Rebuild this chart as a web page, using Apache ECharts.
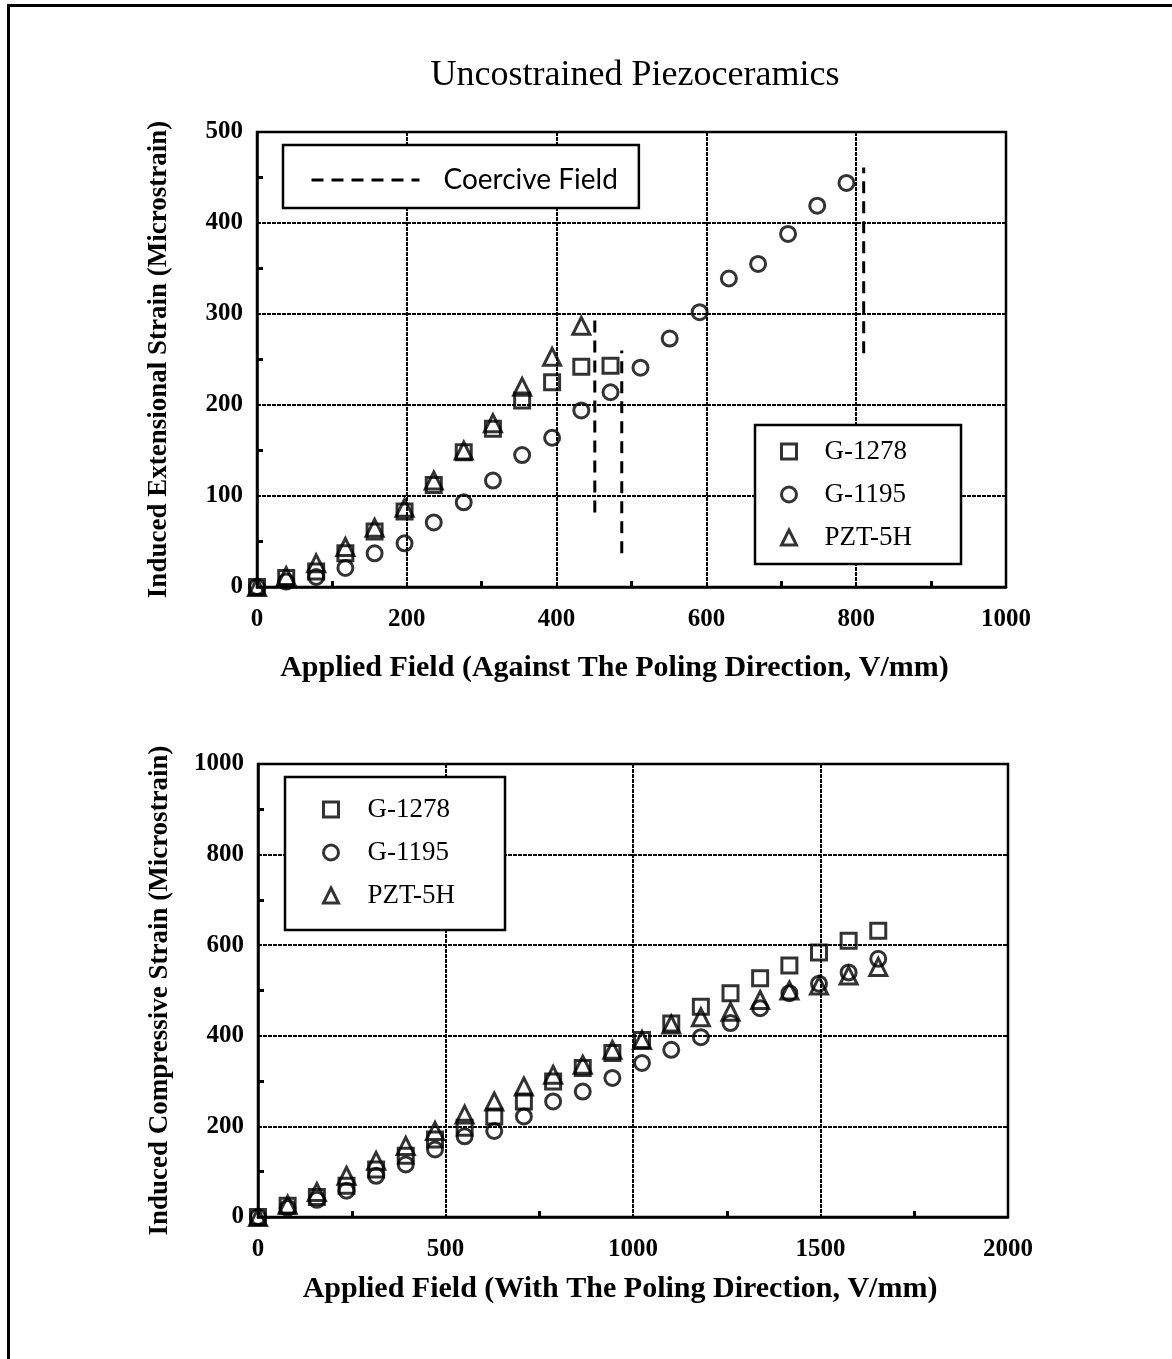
<!DOCTYPE html>
<html>
<head>
<meta charset="utf-8">
<script src="https://cdn.jsdelivr.net/npm/echarts@6/dist/echarts.min.js"></script>
<style>
  html, body { margin: 0; padding: 0; background: #fff; }
  #chart { width: 1172px; height: 1359px; }
</style>
</head>
<body>
<div id="chart"></div>
<script>
// top panel: against the poling direction
const fieldTop = [0, 39, 79, 118, 157, 197, 236, 276, 315, 354, 394, 433, 472, 512, 551, 591, 630, 669, 709, 748, 787];
const g1278Top = [0, 10, 17, 37, 61, 83, 112, 148, 174, 205, 225, 242, 243];
const g1195Top = [0, 6, 11, 21, 37, 48, 71, 93, 117, 145, 164, 194, 214, 241, 273, 302, 339, 355, 388, 419, 444];
const pzt5hTop = [0, 12, 26, 44, 65, 87, 117, 150, 180, 220, 253, 287];

// coercive field markers (x position, lower end, upper end)
const coerciveField = [451, 487, 810];
const coerciveFrom = [82, 37, 257];
const coerciveTo = [297, 260, 461];

// bottom panel: with the poling direction
const fieldBottom = [0, 79, 157, 236, 315, 394, 472, 551, 630, 709, 787, 866, 945, 1024, 1102, 1181, 1260, 1339, 1417, 1496, 1575, 1654];
const g1278Bottom = [0, 25, 44, 69, 105, 135, 171, 197, 222, 255, 299, 329, 362, 391, 427, 464, 494, 527, 555, 584, 610, 632];
const g1195Bottom = [0, 20, 38, 58, 91, 116, 149, 178, 190, 222, 255, 277, 307, 340, 369, 397, 428, 461, 494, 515, 540, 570];
const pzt5hBottom = [0, 27, 55, 91, 124, 157, 190, 226, 255, 288, 314, 336, 369, 391, 425, 441, 453, 479, 500, 511, 533, 552];

const materials = ['G-1278', 'G-1195', 'PZT-5H'];
const symbols = ['rect', 'circle', 'triangle'];

const serif = 'Liberation Serif';

const pair = (xs, ys) => ys.map((y, i) => [xs[i], y]);

const markerSeries = (name, sym, data, idx) => ({
  name: name,
  type: 'scatter',
  xAxisIndex: idx,
  yAxisIndex: idx,
  symbol: sym,
  symbolSize: sym === 'triangle' ? 17 : 15,
  itemStyle: { color: 'rgba(0,0,0,0)', borderColor: '#000', borderWidth: 3 },
  data: data
});

const axisCommon = {
  axisLine: { show: true, lineStyle: { color: '#000', width: 2.5 } },
  axisTick: { show: true, inside: true, length: 0 },
  minorTick: { show: true, splitNumber: 2, length: 6, lineStyle: { color: '#000', width: 3 } },
  splitLine: { show: true, lineStyle: { color: '#000', width: 2, type: [4, 1] } },
  axisLabel: { color: '#000', fontFamily: serif, fontWeight: 'bold', fontSize: 25, formatter: v => String(v) },
  nameTextStyle: { color: '#000', fontFamily: serif, fontWeight: 'bold', fontSize: 30 }
};

const series = [];
[g1278Top, g1195Top, pzt5hTop].forEach((ys, i) => {
  series.push(markerSeries(materials[i], symbols[i], pair(fieldTop, ys), 0));
});
coerciveField.forEach((x, i) => {
  series.push({
    name: 'Coercive Field',
    type: 'line',
    xAxisIndex: 0,
    yAxisIndex: 0,
    symbol: 'none',
    lineStyle: { color: '#000', width: 3, type: [12, 8] },
    data: [[x, coerciveFrom[i]], [x, coerciveTo[i]]]
  });
});
[g1278Bottom, g1195Bottom, pzt5hBottom].forEach((ys, i) => {
  series.push(markerSeries(materials[i], symbols[i], pair(fieldBottom, ys), 1));
});

const markerLegend = (left, top, padding, textGap) => ({
  data: materials,
  orient: 'vertical',
  left: left,
  top: top,
  padding: padding,
  itemWidth: 15,
  itemHeight: 15,
  itemGap: 16,
  backgroundColor: '#fff',
  borderColor: '#000',
  borderWidth: 2.5,
  selectedMode: false,
  itemStyle: { color: 'rgba(0,0,0,0)', borderColor: '#000', borderWidth: 3 },
  textStyle: { color: '#000', fontFamily: serif, fontSize: 27, padding: [0, 0, 0, textGap] }
});

const option = {
  animation: false,
  backgroundColor: '#fff',
  title: {
    text: 'Uncostrained Piezoceramics',
    left: 630,
    top: 53,
    textAlign: 'center',
    textStyle: { color: '#000', fontFamily: serif, fontWeight: 'normal', fontSize: 36 }
  },
  legend: [
    {
      data: ['Coercive Field'],
      left: 283,
      top: 145,
      padding: [21, 21, 14, 27],
      itemWidth: 108,
      itemHeight: 18,
      backgroundColor: '#fff',
      borderColor: '#000',
      borderWidth: 2.5,
      selectedMode: false,
      itemStyle: { opacity: 0 },
      lineStyle: { color: '#000', width: 3, type: [12, 8] },
      textStyle: { color: '#000', fontFamily: 'Lato', fontSize: 28, padding: [0, 0, 0, 19] }
    },
    markerLegend(755, 425, [13, 49, 13, 25], 23),
    markerLegend(285, 777, [19, 50, 21, 37], 24)
  ],
  grid: [
    { left: 257, top: 132, width: 749, height: 455, show: true, borderColor: '#000', borderWidth: 2.5 },
    { left: 258, top: 764, width: 750, height: 453, show: true, borderColor: '#000', borderWidth: 2.5 }
  ],
  xAxis: [
    Object.assign({}, axisCommon, {
      type: 'value', gridIndex: 0, min: 0, max: 1000, interval: 200,
      name: 'Applied Field (Against The Poling Direction, V/mm)',
      nameLocation: 'middle', nameGap: 66,
      nameTextStyle: Object.assign({}, axisCommon.nameTextStyle, { padding: [0, 34, 0, 0] }),
      axisLabel: Object.assign({}, axisCommon.axisLabel, { margin: 20 })
    }),
    Object.assign({}, axisCommon, {
      type: 'value', gridIndex: 1, min: 0, max: 2000, interval: 500,
      name: 'Applied Field (With The Poling Direction, V/mm)',
      nameLocation: 'middle', nameGap: 57,
      nameTextStyle: Object.assign({}, axisCommon.nameTextStyle, { padding: [0, 26, 0, 0] }),
      axisLabel: Object.assign({}, axisCommon.axisLabel, { margin: 20 })
    })
  ],
  yAxis: [
    Object.assign({}, axisCommon, {
      type: 'value', gridIndex: 0, min: 0, max: 500, interval: 100,
      name: 'Induced Extensional Strain (Microstrain)',
      nameLocation: 'middle', nameRotate: 90, nameGap: 84,
      nameTextStyle: Object.assign({}, axisCommon.nameTextStyle, { fontSize: 27 }),
      axisLabel: Object.assign({}, axisCommon.axisLabel, { margin: 14 })
    }),
    Object.assign({}, axisCommon, {
      type: 'value', gridIndex: 1, min: 0, max: 1000, interval: 200,
      name: 'Induced Compressive Strain (Microstrain)',
      nameLocation: 'middle', nameRotate: 90, nameGap: 84,
      nameTextStyle: Object.assign({}, axisCommon.nameTextStyle, { fontSize: 27 }),
      axisLabel: Object.assign({}, axisCommon.axisLabel, { margin: 14 })
    })
  ],
  graphic: [
    {
      type: 'rect',
      left: 6,
      top: 3,
      shape: { width: 1300, height: 1500 },
      style: { fill: 'none', stroke: '#000', lineWidth: 3 },
      silent: true
    }
  ],
  series: series
};

const chart = echarts.init(document.getElementById('chart'));
chart.setOption(option);
</script>
</body>
</html>
